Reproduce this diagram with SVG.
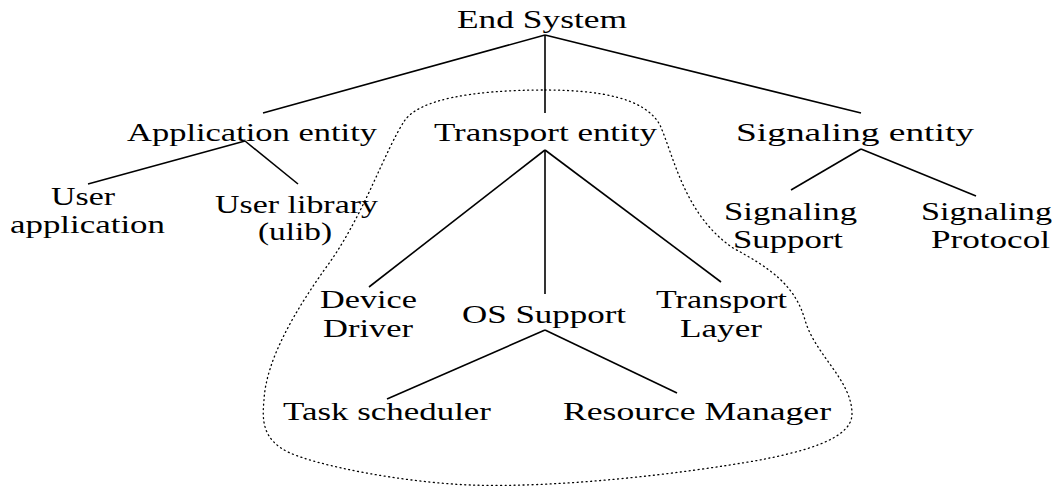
<svg xmlns="http://www.w3.org/2000/svg" width="1059" height="487" viewBox="0 0 1059 487">
<style>
text{font-family:"Liberation Serif","Times New Roman",serif;font-size:26px;fill:#000}
.c line{stroke:#000;stroke-width:1.6}
.outline{fill:none;stroke:#000;stroke-width:1.3;stroke-dasharray:1 3.5;stroke-linecap:round}
</style>
<rect width="1059" height="487" fill="#fff"/>
<path class="outline" d="M545,90 C600,90 645,98 660,125 C675,160 685,215 733,248 C770,268 795,285 805,320 C815,355 852,380 852,414 C852,440 800,452 760,460 C680,474 560,488 470,485 C400,482 320,466 290,453 C262,440 262,420 264,400 C266,360 295,310 330,262 C365,212 385,150 405,120 C420,100 470,90 545,90 Z"/>
<g class="c" id="connectors">
<line x1="545" y1="35" x2="263" y2="113"/>
<line x1="545" y1="35" x2="545" y2="113"/>
<line x1="545" y1="35" x2="861" y2="113"/>
<line x1="245" y1="141" x2="88" y2="184"/>
<line x1="245" y1="141" x2="298" y2="184"/>
<line x1="545" y1="150" x2="369" y2="287"/>
<line x1="545" y1="150" x2="545" y2="294"/>
<line x1="545" y1="150" x2="721" y2="282"/>
<line x1="861" y1="149" x2="791" y2="190"/>
<line x1="861" y1="149" x2="976" y2="196"/>
<line x1="545" y1="330" x2="387" y2="399"/>
<line x1="545" y1="330" x2="677" y2="393"/>
</g>
<g id="end-system"><text x="457" y="28" textLength="170" lengthAdjust="spacingAndGlyphs">End System</text></g>
<g id="application-entity"><text x="127" y="141" textLength="250" lengthAdjust="spacingAndGlyphs">Application entity</text></g>
<g id="transport-entity"><text x="434" y="141" textLength="223" lengthAdjust="spacingAndGlyphs">Transport entity</text></g>
<g id="signaling-entity"><text x="736" y="141" textLength="238" lengthAdjust="spacingAndGlyphs">Signaling entity</text></g>
<g id="user-application"><text x="51" y="205" textLength="64" lengthAdjust="spacingAndGlyphs">User</text><text x="10" y="233" textLength="155" lengthAdjust="spacingAndGlyphs">application</text></g>
<g id="user-library"><text x="215" y="213" textLength="163" lengthAdjust="spacingAndGlyphs">User library</text><text x="258" y="240" textLength="74" lengthAdjust="spacingAndGlyphs">(ulib)</text></g>
<g id="signaling-support"><text x="724" y="220" textLength="133" lengthAdjust="spacingAndGlyphs">Signaling</text><text x="733" y="248" textLength="110" lengthAdjust="spacingAndGlyphs">Support</text></g>
<g id="signaling-protocol"><text x="921" y="220" textLength="131" lengthAdjust="spacingAndGlyphs">Signaling</text><text x="931" y="248" textLength="119" lengthAdjust="spacingAndGlyphs">Protocol</text></g>
<g id="device-driver"><text x="320" y="308" textLength="97" lengthAdjust="spacingAndGlyphs">Device</text><text x="323" y="337" textLength="90" lengthAdjust="spacingAndGlyphs">Driver</text></g>
<g id="os-support"><text x="462" y="323" textLength="164" lengthAdjust="spacingAndGlyphs">OS Support</text></g>
<g id="transport-layer"><text x="656" y="308" textLength="131" lengthAdjust="spacingAndGlyphs">Transport</text><text x="680" y="337" textLength="82" lengthAdjust="spacingAndGlyphs">Layer</text></g>
<g id="task-scheduler"><text x="283" y="420" textLength="208" lengthAdjust="spacingAndGlyphs">Task scheduler</text></g>
<g id="resource-manager"><text x="563" y="420" textLength="268" lengthAdjust="spacingAndGlyphs">Resource Manager</text></g>
</svg>
